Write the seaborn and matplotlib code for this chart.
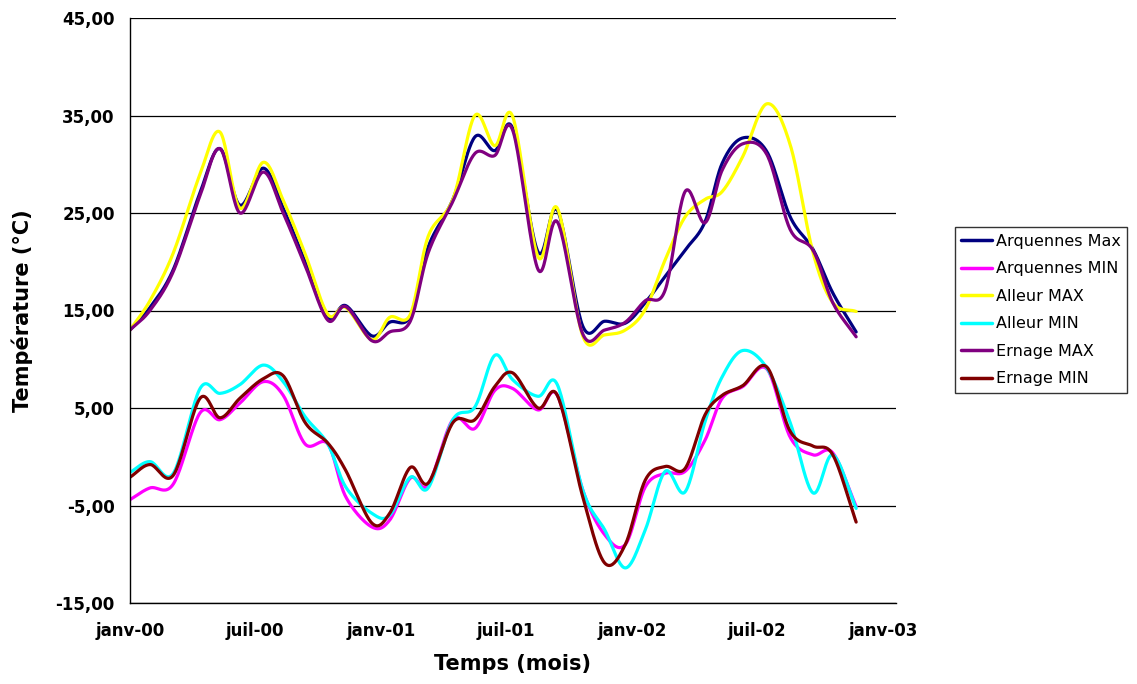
import numpy as np
import pandas as pd
import matplotlib
matplotlib.use("Agg")
import matplotlib.pyplot as plt
import matplotlib.dates as mdates
import seaborn as sns

# Dates of the readings (shared by all stations)
dates = ["2000-01-01", "2000-01-30", "2000-03-04", "2000-04-12", "2000-05-11",
         "2000-06-09", "2000-07-13", "2000-08-11", "2000-09-12", "2000-10-15",
         "2000-11-10", "2000-12-18", "2001-01-13", "2001-02-12", "2001-03-10",
         "2001-04-15", "2001-05-17", "2001-06-15", "2001-07-11", "2001-08-17",
         "2001-09-14", "2001-10-21", "2001-11-22", "2001-12-22", "2002-01-20",
         "2002-02-18", "2002-03-19", "2002-04-17", "2002-05-12", "2002-06-11",
         "2002-07-16", "2002-08-19", "2002-09-21", "2002-10-20", "2002-11-23"]

arquennes_max = [13.0, 15.3, 19.2, 27.1, 31.6, 25.8, 29.6, 25.5, 20.0, 14.3,
                 15.5, 12.4, 13.8, 14.4, 21.5, 26.4, 32.8, 31.4, 33.7, 21.0,
                 25.3, 13.4, 13.9, 13.7, 15.8, 18.5, 21.2, 24.1, 30.1, 32.7,
                 31.3, 24.6, 21.3, 16.8, 12.8]
arquennes_min = [-4.4, -3.2, -2.8, 4.5, 3.8, 5.5, 7.7, 6.3, 1.3, 1.3,
                 -4.1, -7.2, -6.5, -2.2, -2.9, 3.8, 2.9, 6.8, 7.0, 4.8,
                 6.3, -3.4, -8.0, -9.0, -3.1, -1.7, -1.5, 1.7, 6.0, 7.2,
                 9.0, 2.0, 0.2, 0.4, -5.1]
alleur_max = [13.0, 16.0, 20.9, 29.0, 33.3, 25.5, 30.2, 26.3, 20.8, 14.6,
              15.3, 12.0, 14.3, 14.6, 22.6, 26.4, 35.0, 31.9, 34.9, 20.5,
              25.5, 12.4, 12.5, 13.0, 15.1, 20.2, 24.6, 26.4, 27.2, 30.8,
              36.2, 32.0, 21.0, 15.8, 14.9]
alleur_min = [-1.6, -0.5, -1.7, 7.0, 6.5, 7.4, 9.4, 7.7, 4.1, 1.3,
              -3.1, -5.8, -6.0, -2.1, -3.2, 3.8, 5.1, 10.4, 7.9, 6.2,
              7.4, -3.4, -7.5, -11.4, -7.5, -1.5, -3.6, 3.6, 8.2, 10.9,
              9.1, 3.5, -3.7, 0.2, -5.3]
ernage_max = [13.0, 15.0, 19.0, 26.8, 31.6, 25.0, 29.2, 25.0, 19.6, 14.0,
              15.4, 11.9, 12.8, 13.9, 20.9, 26.2, 31.1, 30.9, 33.5, 19.2,
              24.1, 12.6, 13.0, 13.8, 16.0, 17.1, 27.2, 24.0, 29.4, 32.1,
              31.0, 23.3, 21.2, 15.8, 12.3]
ernage_min = [-2.1, -0.8, -1.9, 6.0, 4.0, 6.0, 8.0, 8.3, 3.5, 1.4,
              -1.4, -6.8, -5.8, -1.1, -2.7, 3.5, 3.8, 7.2, 8.6, 5.0,
              6.3, -4.1, -10.9, -9.0, -2.4, -1.0, -1.2, 4.3, 6.3, 7.3,
              9.2, 2.6, 1.1, 0.2, -6.7]

series = {
    "Arquennes Max": arquennes_max,
    "Arquennes MIN": arquennes_min,
    "Alleur MAX": alleur_max,
    "Alleur MIN": alleur_min,
    "Ernage MAX": ernage_max,
    "Ernage MIN": ernage_min,
}
colors = ["#000080", "#FF00FF", "#FFFF00", "#00FFFF", "#800080", "#800000"]

tick_dates = ["2000-01-01", "2000-07-01", "2001-01-01", "2001-07-01",
              "2002-01-01", "2002-07-01", "2003-01-01"]
tick_labels = ["janv-00", "juil-00", "janv-01", "juil-01", "janv-02", "juil-02", "janv-03"]
y_ticks = [-15, -5, 5, 15, 25, 35, 45]


def smooth(x, y, n=24):
    # Catmull-Rom curve through the points, like Excel's smoothed lines
    pts = np.column_stack([x, y])
    p = np.vstack([2 * pts[0] - pts[1], pts, 2 * pts[-1] - pts[-2]])
    t = np.linspace(0, 1, n, endpoint=False)[:, None]
    out = []
    for i in range(1, len(p) - 2):
        p0, p1, p2, p3 = p[i - 1], p[i], p[i + 1], p[i + 2]
        seg = 0.5 * (2 * p1 + (-p0 + p2) * t + (2 * p0 - 5 * p1 + 4 * p2 - p3) * t ** 2
                     + (-p0 + 3 * p1 - 3 * p2 + p3) * t ** 3)
        out.append(seg)
    out.append(pts[-1:])
    return np.vstack(out)


xnum = mdates.date2num(pd.to_datetime(dates))
frames = []
for name, vals in series.items():
    c = smooth(xnum, np.array(vals, dtype=float))
    frames.append(pd.DataFrame({"x": c[:, 0], "y": c[:, 1], "serie": name}))
df = pd.concat(frames, ignore_index=True)

sns.set_style("white")
plt.rcParams["font.family"] = ["DejaVu Sans"]
plt.rcParams.update({"text.color": "black", "axes.labelcolor": "black",
                     "xtick.color": "black", "ytick.color": "black"})

fig = plt.figure(figsize=(11.37, 6.84), dpi=100)
ax = fig.add_axes([130 / 1137, 1 - 603 / 684, (896 - 130) / 1137, (603 - 18) / 684])

sns.lineplot(data=df, x="x", y="y", hue="serie", palette=dict(zip(series, colors)),
             sort=False, estimator=None, units="serie", linewidth=2.3, ax=ax)

ax.set_ylim(-15, 45)
ax.set_xlim(mdates.date2num(pd.Timestamp("2000-01-01")),
            mdates.date2num(pd.Timestamp("2003-01-20")))
ax.set_yticks(y_ticks)
ax.set_yticklabels([f"{v:.2f}".replace(".", ",") for v in y_ticks],
                   fontsize=12, fontweight="bold")
ax.set_xticks(mdates.date2num(pd.to_datetime(tick_dates)))
ax.set_xticklabels(tick_labels, fontsize=12, fontweight="bold")
ax.tick_params(axis="both", direction="out", length=5, width=1, color="black")
ax.tick_params(axis="y", pad=6)
ax.tick_params(axis="x", pad=9)
ax.grid(axis="y", color="black", linewidth=0.9)
ax.grid(axis="x", visible=False)
for s in ["top", "right"]:
    ax.spines[s].set_visible(False)
for s in ["left", "bottom"]:
    ax.spines[s].set_color("black")
    ax.spines[s].set_linewidth(1)

ax.set_xlabel("Temps (mois)", fontsize=15, fontweight="bold", labelpad=10)
ax.set_ylabel("Température (°C)", fontsize=15, fontweight="bold", labelpad=16)

leg = ax.legend(loc="center left", bbox_to_anchor=(955 / 1137, 1 - 310 / 684),
                bbox_transform=fig.transFigure, frameon=True, fancybox=False,
                fontsize=11.5, handlelength=1.9, handletextpad=0.25,
                labelspacing=0.78, borderpad=0.4, borderaxespad=0)
leg.get_frame().set_edgecolor("black")
leg.get_frame().set_linewidth(1)
for h in leg.get_lines():
    h.set_linewidth(2.5)

fig.savefig("out.png", dpi=100)
